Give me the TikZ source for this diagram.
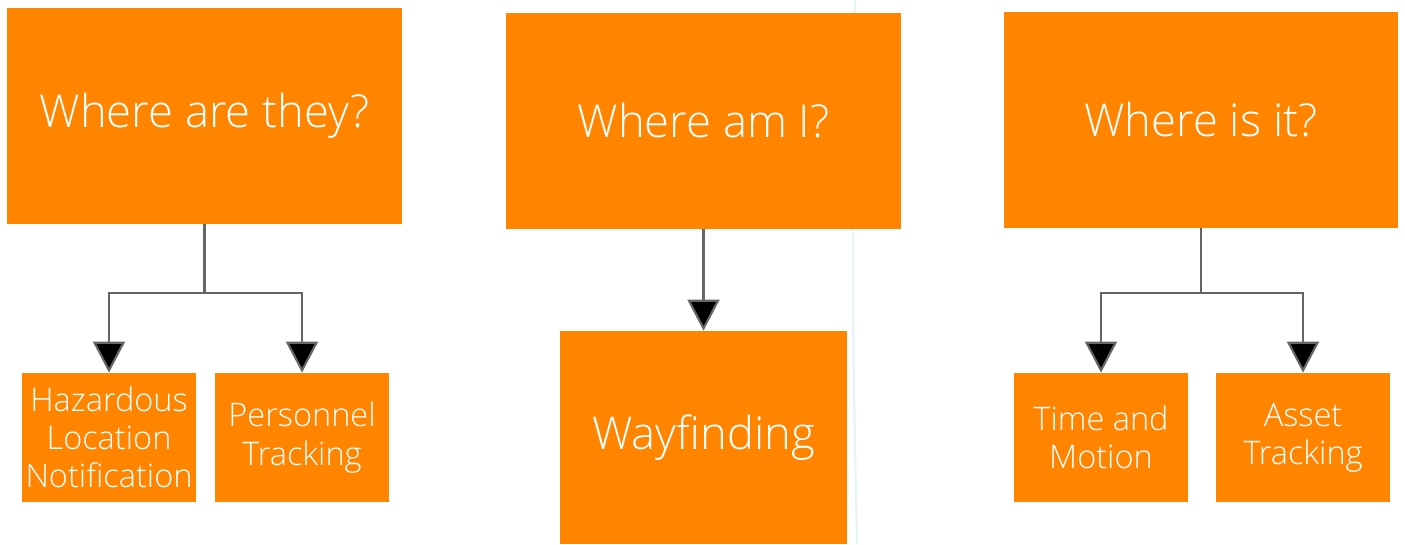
\documentclass[tikz,border=0pt]{standalone}
\usepackage{fontspec}
\setmainfont{Open Sans Light}
\usetikzlibrary{arrows.meta}
\definecolor{boxOrange}{HTML}{FF8400}
\definecolor{lineGray}{HTML}{666666}
\definecolor{guideBlue}{HTML}{E6F3F9}

\begin{document}
\begin{tikzpicture}
[x=0.02cm,y=-0.02cm,
  questionDecorate/.style={shape=rectangle,fill=boxOrange,text=white,inner sep=0pt,
    minimum width=7.9cm,minimum height=4.32cm,font=\fontsize{25.8}{31}\selectfont},
  leafDecorate/.style={shape=rectangle,fill=boxOrange,text=white,inner sep=0pt,
    minimum width=3.48cm,minimum height=2.58cm,align=center,
    font=\fontsize{18.5}{21.8}\selectfont},
  wayDecorate/.style={shape=rectangle,fill=boxOrange,text=white,inner sep=0pt,
    minimum width=5.74cm,minimum height=4.26cm,font=\fontsize{25.8}{31}\selectfont},
  lineDecorate/.style={draw=lineGray,line width=1.2pt,
    -{Triangle[width=0.64cm,length=0.62cm,fill=black]}}]
\useasboundingbox (0,0) rectangle (1405,544);
%% faint guide line
\draw[guideBlue,line width=1.2pt] (855,0) .. controls (852,300) .. (857,544);
%% question boxes
\foreach \nodename/\x/\y/\txt in {
  they/204.5/116/Where are they?,
  me/703.5/121/Where am I?,
  it/1201/120/Where is it?}
{
  \node (\nodename) at (\x,\y) [questionDecorate] {\txt};
}
%% use case boxes
\foreach \nodename/\x/\txt in {
  hazard/109/Hazardous\\Location\\Notification,
  personnel/302/Personnel\\Tracking,
  motion/1101/Time and\\Motion,
  asset/1303/Asset\\Tracking}
{
  \node (\nodename) at (\x,437.5) [leafDecorate] {\txt};
}
\node (wayfinding) at (703.5,437.5) [wayDecorate] {Wayfinding};
%% connectors
\draw[lineDecorate] (they.south) -- ++(0,69) -| (hazard.north);
\draw[lineDecorate] (they.south) -- ++(0,69) -| (personnel.north);
\draw[lineDecorate] (me.south) -- (wayfinding.north);
\draw[lineDecorate] (it.south) -- ++(0,65) -| (motion.north);
\draw[lineDecorate] (it.south) -- ++(0,65) -| (asset.north);
\end{tikzpicture}
\end{document}
